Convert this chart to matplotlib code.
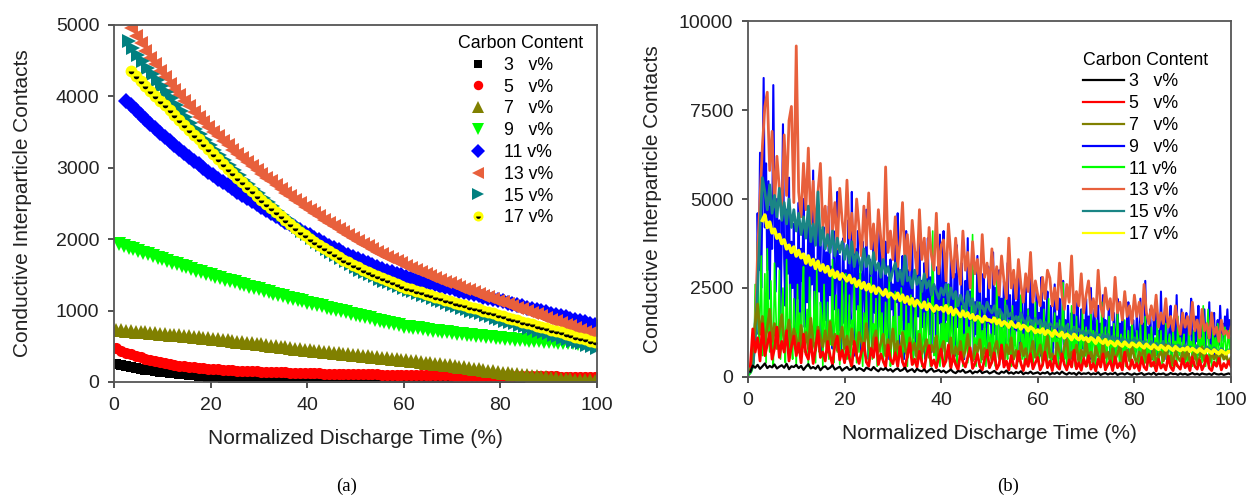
import matplotlib.pyplot as plt
import numpy as np

plt.rcParams['font.family'] = ['Liberation Sans', 'DejaVu Sans']

# Carbon contents (v%) and their legend labels
carbon = [3, 5, 7, 9, 11, 13, 15, 17]
labels = ["3   v%", "5   v%", "7   v%", "9   v%", "11 v%", "13 v%", "15 v%", "17 v%"]

# (a) Smoothed conductive contacts, one value per 1 % of discharge time
# first x value of each series
start_a = [0.5, 0.5, 0.5, 1.0, 2.5, 3.5, 3.0, 3.5]

smooth_3 = [250, 235, 221, 208, 196, 184, 173, 163, 153, 144,
            135, 127, 119, 112, 105, 98, 92, 86, 81, 76,
            71, 66, 62, 58, 54, 50, 47, 44, 41, 38,
            35, 32, 30, 27, 25, 23, 21, 19, 17, 16,
            14, 13, 12, 11, 10, 9, 8, 7, 7, 6,
            6, 5, 5, 5, 4, 4, 4, 4, 3, 3,
            3, 3, 3, 2, 2, 2, 2, 2, 2, 2,
            2, 2, 1, 1, 1, 1, 1, 1, 1, 1,
            1, 1, 1, 1, 1, 1, 1, 1, 1, 1,
            1, 1, 1, 1, 1, 1, 1, 1, 1, 1]

smooth_5 = [470, 440, 412, 387, 364, 343, 324, 306, 290, 275,
            261, 249, 238, 228, 219, 211, 204, 197, 191, 186,
            181, 176, 172, 168, 164, 160, 157, 154, 151, 148,
            145, 142, 140, 137, 135, 133, 131, 129, 127, 125,
            123, 121, 120, 118, 117, 115, 114, 112, 111, 110,
            109, 108, 107, 106, 105, 104, 103, 102, 101, 100,
            99, 98, 97, 96, 95, 94, 94, 93, 92, 91,
            90, 90, 89, 88, 87, 87, 86, 85, 85, 84,
            83, 83, 82, 81, 81, 80, 80, 79, 78, 78,
            77, 77, 76, 76, 75, 75, 74, 74, 73, 73]

smooth_7 = [730, 724, 718, 712, 706, 700, 694, 688, 682, 676,
            670, 664, 658, 652, 646, 640, 634, 628, 621, 614,
            606, 598, 590, 582, 574, 566, 558, 550, 542, 534,
            526, 517, 508, 499, 491, 483, 475, 467, 459, 451,
            444, 437, 430, 423, 416, 409, 402, 395, 388, 381,
            374, 367, 360, 353, 346, 339, 332, 325, 318, 311,
            303, 295, 287, 279, 271, 263, 255, 247, 239, 231,
            222, 213, 204, 195, 186, 177, 168, 159, 150, 141,
            132, 123, 115, 107, 99, 91, 84, 77, 70, 63,
            57, 51, 46, 41, 36, 32, 28, 24, 21, 18]

smooth_9 = [1930, 1906, 1882, 1858, 1834, 1810, 1787, 1764, 1741, 1718,
            1695, 1672, 1649, 1627, 1605, 1583, 1561, 1539, 1517, 1496,
            1475, 1455, 1435, 1415, 1395, 1375, 1355, 1335, 1315, 1296,
            1277, 1258, 1239, 1220, 1201, 1183, 1165, 1147, 1129, 1111,
            1094, 1077, 1060, 1043, 1026, 1009, 992, 975, 958, 941,
            924, 907, 890, 873, 856, 840, 824, 808, 792, 777,
            770, 760, 750, 740, 730, 721, 712, 703, 694, 685,
            677, 669, 661, 653, 645, 638, 631, 624, 617, 610,
            604, 598, 593, 588, 583, 578, 573, 569, 565, 561,
            557, 553, 549, 545, 541, 537, 533, 529, 525, 521]

smooth_11 = [3940, 3873, 3807, 3742, 3678, 3615, 3553, 3492, 3433, 3375,
             3318, 3262, 3207, 3153, 3100, 3048, 2997, 2947, 2898, 2850,
             2803, 2757, 2711, 2666, 2622, 2578, 2535, 2492, 2450, 2408,
             2367, 2326, 2286, 2246, 2207, 2168, 2130, 2092, 2055, 2018,
             1982, 1946, 1911, 1877, 1843, 1810, 1778, 1747, 1717, 1688,
             1660, 1633, 1607, 1582, 1558, 1535, 1513, 1492, 1472, 1453,
             1435, 1417, 1400, 1383, 1366, 1349, 1332, 1315, 1298, 1281,
             1264, 1247, 1230, 1213, 1196, 1179, 1162, 1145, 1128, 1111,
             1094, 1077, 1060, 1043, 1026, 1009, 992, 975, 958, 941,
             924, 907, 889, 871, 853, 835, 817, 799]

smooth_13 = [4960, 4850, 4745, 4642, 4542, 4447, 4355, 4265, 4178, 4094,
             4013, 3935, 3860, 3786, 3714, 3643, 3574, 3507, 3441, 3377,
             3315, 3254, 3195, 3137, 3080, 3024, 2969, 2915, 2862, 2809,
             2756, 2704, 2653, 2603, 2554, 2505, 2457, 2410, 2364, 2319,
             2274, 2229, 2185, 2142, 2100, 2058, 2017, 1977, 1938, 1900,
             1862, 1826, 1791, 1757, 1724, 1692, 1661, 1630, 1600, 1571,
             1540, 1512, 1485, 1458, 1431, 1405, 1380, 1355, 1330, 1306,
             1282, 1258, 1234, 1210, 1186, 1162, 1138, 1114, 1090, 1066,
             1042, 1018, 994, 970, 946, 922, 898, 874, 850, 826,
             802, 778, 754, 730, 706, 682, 658]

smooth_15 = [4770, 4675, 4582, 4490, 4400, 4312, 4226, 4142, 4060, 3980,
             3880, 3795, 3712, 3630, 3550, 3472, 3396, 3320, 3246, 3174,
             3104, 3035, 2967, 2900, 2834, 2769, 2705, 2642, 2580, 2519,
             2459, 2400, 2342, 2285, 2229, 2174, 2120, 2067, 2015, 1965,
             1916, 1868, 1822, 1777, 1733, 1691, 1650, 1611, 1574, 1539,
             1508, 1478, 1449, 1421, 1394, 1368, 1342, 1317, 1293, 1270,
             1250, 1225, 1200, 1176, 1152, 1129, 1106, 1084, 1062, 1041,
             1020, 1000, 980, 960, 940, 920, 900, 880, 860, 840,
             820, 800, 780, 760, 740, 720, 700, 680, 660, 640,
             620, 600, 580, 560, 540, 520, 500, 480]

smooth_17 = [4350, 4282, 4214, 4146, 4078, 4010, 3942, 3874, 3806, 3738,
             3670, 3602, 3534, 3466, 3398, 3330, 3262, 3194, 3126, 3058,
             2990, 2924, 2859, 2795, 2732, 2670, 2609, 2549, 2490, 2432,
             2375, 2319, 2264, 2210, 2157, 2105, 2054, 2005, 1958, 1913,
             1870, 1829, 1789, 1750, 1712, 1676, 1641, 1607, 1574, 1542,
             1511, 1481, 1452, 1424, 1397, 1371, 1346, 1322, 1299, 1277,
             1255, 1234, 1213, 1192, 1171, 1151, 1131, 1112, 1093, 1074,
             1055, 1036, 1017, 998, 979, 960, 941, 922, 903, 884,
             865, 846, 827, 808, 789, 770, 751, 732, 713, 694,
             675, 656, 637, 618, 599, 580, 561]

smooth_a = [smooth_3, smooth_5, smooth_7, smooth_9,
            smooth_11, smooth_13, smooth_15, smooth_17]

# (b) Raw contact counts; 9 and 11 v% are logged every 0.25 %, the rest every 0.5 %
step_b = [0.5, 0.5, 0.5, 0.25, 0.25, 0.5, 0.5, 0.5]

raw_3 = [150, 320, 260, 340, 230, 300, 380, 250, 310, 270, 350, 240, 290, 330, 260, 370, 220, 300, 280, 340,
         250, 310, 200, 290, 360, 240, 280, 230, 320, 190, 270, 300, 220, 260, 330, 210, 250, 290, 180, 240,
         280, 200, 230, 310, 190, 250, 220, 170, 260, 230, 190, 280, 210, 160, 240, 200, 250, 180, 220, 150,
         210, 240, 170, 200, 260, 150, 190, 220, 140, 230, 180, 160, 210, 130, 190, 240, 150, 170, 200, 140,
         180, 120, 160, 210, 140, 110, 170, 150, 200, 120, 140, 180, 100, 150, 130, 190, 110, 140, 160, 100,
         130, 170, 110, 90, 150, 120, 180, 100, 130, 90, 140, 110, 160, 80, 120, 100, 150, 90, 110, 130,
         80, 120, 100, 140, 70, 110, 90, 130, 80, 150, 100, 70, 120, 90, 110, 60, 130, 80, 100, 90,
         120, 70, 100, 80, 130, 60, 90, 110, 70, 100, 80, 120, 60, 90, 100, 70, 110, 80, 60, 100,
         70, 90, 110, 60, 80, 100, 70, 120, 60, 90, 80, 100, 60, 70, 110, 80, 90, 60, 100, 70,
         90, 60, 80, 110, 70, 90, 60, 100, 80, 70, 90, 60, 110, 80, 70, 90, 60, 80, 100, 70]

raw_5 = [300, 1350, 700, 1100, 450, 1500, 600, 900, 1250, 500, 800, 1400, 550, 1000, 700, 1300, 450, 850, 1150, 600,
         950, 400, 1200, 650, 500, 1050, 380, 800, 1300, 550, 700, 450, 1000, 600, 350, 900, 1150, 480, 750, 400,
         850, 520, 300, 1000, 600, 380, 720, 950, 420, 300, 800, 550, 1100, 350, 650, 450, 280, 900, 500, 370,
         680, 300, 850, 420, 250, 600, 950, 350, 500, 280, 720, 400, 230, 650, 880, 320, 480, 260, 560, 780,
         300, 450, 900, 250, 600, 350, 200, 700, 420, 280, 550, 820, 240, 380, 650, 300, 200, 500, 750, 260,
         420, 680, 220, 350, 900, 280, 450, 200, 600, 320, 250, 720, 380, 180, 500, 300, 650, 230, 400, 550,
         200, 350, 700, 260, 450, 180, 580, 300, 220, 650, 350, 200, 480, 280, 750, 230, 400, 190, 520, 300,
         600, 220, 380, 170, 500, 280, 650, 200, 350, 450, 180, 560, 260, 400, 200, 700, 300, 220, 480, 250,
         380, 180, 550, 280, 200, 620, 300, 420, 170, 500, 250, 350, 200, 580, 280, 180, 450, 300, 220, 520,
         260, 400, 180, 560, 300, 220, 480, 200, 350, 600, 250, 180, 420, 300, 520, 200, 380, 260, 450, 300]

raw_7 = [200, 800, 1500, 2050, 1200, 1700, 900, 1400, 1900, 1000, 1500, 800, 1300, 1750, 900, 1200, 1600, 850, 1350, 1100,
         700, 1450, 950, 1250, 800, 1650, 1000, 750, 1400, 1100, 850, 1300, 700, 1550, 900, 1200, 750, 1050, 1400, 800,
         1150, 700, 1350, 900, 650, 1250, 1000, 750, 1500, 850, 650, 1100, 1300, 700, 950, 1200, 600, 1050, 800, 1350,
         700, 1000, 600, 1250, 850, 550, 1100, 750, 950, 500, 1200, 650, 850, 1050, 550, 900, 700, 1150, 500, 800,
         1000, 550, 750, 1100, 450, 850, 650, 1000, 500, 750, 1200, 600, 450, 900, 700, 1050, 500, 800, 600, 950,
         450, 800, 1000, 550, 700, 400, 900, 650, 1100, 500, 750, 450, 950, 600, 800, 400, 700, 1000, 550, 650,
         900, 450, 750, 1150, 550, 650, 400, 950, 700, 500, 850, 1050, 450, 700, 600, 900, 400, 750, 550, 1000,
         500, 700, 400, 850, 600, 450, 950, 550, 700, 400, 800, 500, 650, 900, 400, 600, 750, 450, 850, 550,
         400, 700, 550, 850, 400, 650, 500, 800, 380, 600, 700, 450, 900, 500, 600, 380, 750, 550, 450, 700,
         500, 800, 400, 600, 700, 380, 550, 850, 450, 600, 400, 700, 500, 650, 420, 750, 500, 600, 400, 550]

raw_9 = [80, 120, 200, 300, 600, 1800, 1200, 4600, 3000, 6300, 2500, 5200, 8400, 4200, 6000, 3000, 5500, 2200, 4800, 3600,
         8200, 4500, 2400, 5000, 3100, 4400, 1800, 3900, 7100, 3300, 2000, 4700, 2900, 5600, 1500, 3800, 2500, 4300, 1200, 3500,
         2200, 4900, 900, 3600, 2700, 5000, 1400, 3200, 2100, 4400, 700, 3900, 2600, 5800, 1700, 3300, 1000, 4600, 2400, 3700,
         600, 2900, 4200, 1600, 3500, 900, 4800, 2300, 3100, 800, 4100, 1900, 2800, 5200, 1300, 3400, 700, 2600, 3900, 1500,
         3000, 800, 4400, 2200, 1500, 5200, 2700, 600, 3600, 1900, 4100, 1100, 2900, 700, 3800, 2400, 1300, 4700, 2000, 500,
         3300, 2600, 900, 4000, 1800, 3100, 600, 2500, 4300, 1400, 3500, 800, 2200, 3800, 1200, 2800, 500, 3300, 1900, 2600,
         1000, 3700, 2100, 4600, 700, 2900, 1600, 3400, 500, 2400, 4100, 1300, 3000, 800, 2600, 3800, 1100, 2200, 600, 3500,
         1700, 4500, 900, 2700, 1400, 3200, 500, 2300, 3900, 1200, 2800, 700, 3400, 1800, 2500, 600, 3100, 1500, 4000, 1000,
         2300, 4100, 800, 3000, 1600, 2600, 500, 3500, 1900, 1100, 2900, 600, 3700, 1400, 2200, 900, 3200, 1700, 500, 2700,
         1300, 3900, 800, 2400, 1600, 3000, 500, 2100, 1200, 3400, 900, 2600, 1800, 600, 2900, 1400, 2200, 700, 3100, 1500,
         2000, 600, 3500, 1200, 2500, 800, 1800, 3000, 500, 2200, 1400, 2700, 700, 1900, 3200, 1000, 2300, 500, 1600, 2800,
         900, 2100, 1300, 3100, 600, 1700, 2400, 800, 1500, 2600, 500, 1900, 1100, 2900, 700, 2200, 1400, 600, 2500, 1000,
         1800, 600, 2800, 1300, 2100, 500, 1600, 2400, 900, 1500, 2000, 500, 1200, 2600, 800, 1700, 1100, 2200, 500, 1400,
         2700, 900, 1600, 600, 2000, 1200, 500, 1800, 1000, 2300, 700, 1500, 2100, 500, 1300, 1900, 800, 1600, 600, 2200,
         1100, 1700, 500, 2500, 900, 1400, 1900, 600, 1200, 2000, 800, 1500, 500, 2300, 1000, 1600, 700, 1300, 2100, 500,
         1400, 900, 1800, 600, 1200, 2200, 800, 1500, 500, 1900, 1000, 1300, 700, 1700, 2100, 600, 1400, 900, 1600, 1100,
         700, 1800, 1200, 500, 2200, 900, 1500, 600, 2700, 1100, 1400, 700, 1900, 1000, 500, 1600, 1200, 2000, 600, 1300,
         800, 2400, 1000, 1500, 500, 1800, 1100, 700, 1400, 2000, 600, 1200, 1700, 900, 2300, 700, 1400, 1000, 1900, 800,
         1500, 600, 1800, 1100, 500, 1400, 2200, 800, 1300, 700, 1700, 1000, 2000, 600, 1200, 1600, 900, 1900, 700, 1400,
         1100, 2100, 800, 1500, 1000, 1800, 600, 1300, 1600, 900, 2000, 1200, 1500, 1000, 1700, 1300, 1900, 1100, 1600, 1400]

raw_11 = [60, 100, 150, 250, 400, 2600, 1200, 3800, 900, 1800, 3400, 600, 1200, 2900, 400, 3600, 1500, 700, 2700, 1100,
          300, 3200, 2000, 800, 1100, 3000, 500, 1600, 2500, 900, 400, 3300, 1400, 700, 2600, 1000, 500, 2200, 1500, 300,
          2600, 900, 1800, 400, 2200, 3100, 700, 1200, 1900, 300, 2800, 1500, 600, 1000, 2400, 400, 3000, 1100, 700, 2100,
          1700, 300, 2600, 1300, 800, 2100, 500, 1600, 900, 3300, 400, 1400, 2300, 700, 1900, 350, 1200, 2700, 600, 1000,
          2900, 500, 1200, 2300, 300, 1600, 900, 2700, 1300, 400, 2000, 700, 3200, 1000, 300, 1800, 600, 2400, 1400, 350,
          1100, 2800, 500, 1500, 900, 2200, 300, 1300, 2500, 700, 1800, 400, 1000, 2100, 600, 1400, 2800, 300, 1100, 1700,
          500, 2400, 900, 300, 1700, 1200, 2500, 400, 1300, 700, 2000, 300, 1500, 800, 2300, 1100, 350, 1600, 2100, 500,
          1300, 700, 2600, 300, 1000, 1800, 500, 1400, 2200, 900, 300, 1600, 4100, 600, 1100, 400, 1900, 1200, 300, 1500,
          700, 2200, 400, 1500, 1000, 2600, 300, 1300, 1800, 500, 1100, 2400, 300, 900, 1700, 600, 2000, 300, 1200, 800,
          2300, 400, 1400, 700, 1900, 4000, 500, 1100, 300, 1700, 900, 2100, 400, 1300, 700, 1800, 300, 1000, 1500, 600,
          1200, 400, 1700, 800, 300, 2900, 1000, 500, 1900, 700, 1400, 300, 2200, 900, 500, 1600, 1100, 300, 2000, 600,
          1300, 800, 300, 1700, 1000, 2300, 500, 1200, 300, 1500, 700, 1900, 400, 1100, 1600, 300, 900, 2100, 600, 1300,
          400, 1500, 900, 300, 1900, 700, 1200, 400, 2200, 800, 300, 1400, 1000, 1800, 500, 1100, 300, 1600, 700, 1300,
          2650, 500, 900, 300, 1500, 1000, 400, 2000, 700, 1200, 300, 1700, 800, 500, 1300, 300, 1900, 900, 600, 1400,
          300, 1100, 700, 1800, 400, 1300, 900, 300, 1600, 600, 1200, 300, 2100, 800, 500, 1400, 300, 1000, 1700, 600,
          1100, 300, 1500, 800, 400, 1900, 700, 300, 1200, 1000, 500, 1600, 300, 900, 1300, 600, 300, 1800, 700, 1100,
          400, 1300, 800, 300, 1500, 600, 1000, 300, 1700, 700, 500, 1200, 300, 1400, 900, 300, 1100, 600, 1600, 400,
          800, 1300, 300, 1000, 600, 1500, 300, 900, 1200, 500, 300, 1400, 700, 1000, 300, 1700, 600, 1100, 400, 900,
          1200, 400, 800, 300, 1400, 700, 1000, 300, 1300, 500, 900, 300, 1500, 600, 1100, 400, 2000, 700, 300, 1200,
          1900, 500, 900, 300, 1300, 700, 1100, 400, 1500, 800, 300, 1200, 600, 1000, 1400, 500, 900, 1300, 700, 1100]

raw_13 = [200, 400, 1200, 3500, 5000, 6500, 7600, 8000, 5800, 6900, 4800, 6200, 5300, 4600, 6800, 5100, 7200, 7600, 4900, 9300,
          5200, 4500, 6000, 4700, 6430, 4300, 5500, 3900, 5200, 6000, 4200, 4800, 3700, 5600, 4100, 4900, 3600, 5300, 4400, 3800,
          5530, 3900, 4600, 3500, 5000, 4200, 3400, 4800, 3700, 5170, 3600, 4300, 3300, 4700, 3900, 3200, 5900, 3500, 4100, 3300,
          4500, 3100, 3800, 4900, 3200, 4000, 3000, 4400, 3600, 2900, 4700, 3300, 3900, 2800, 4200, 3400, 3000, 4600, 2900, 3700,
          3850, 2700, 4300, 3430, 2800, 3900, 3100, 2600, 4100, 3000, 3500, 2500, 3800, 2900, 3300, 2400, 4000, 2800, 3200, 2500,
          3600, 2600, 3100, 2300, 3400, 2700, 2200, 3900, 2500, 3000, 2200, 3300, 2600, 2100, 2900, 2400, 3500, 2100, 2700, 2300,
          2000, 2800, 2200, 3000, 2780, 2000, 2500, 1900, 3200, 2300, 1900, 2600, 2100, 3400, 1800, 2400, 2000, 2900, 1800, 2300,
          2700, 1800, 2200, 1700, 3000, 2000, 1700, 2500, 1900, 2200, 1600, 2800, 1800, 2100, 1600, 2400, 1700, 2000, 1500, 2300,
          1700, 2100, 1500, 2600, 1800, 1500, 2000, 1600, 2300, 1400, 1800, 1500, 2200, 1400, 1700, 1300, 2000, 1500, 1200, 1800,
          1400, 1700, 1200, 2100, 1300, 1600, 1100, 1900, 1300, 1500, 1100, 1800, 1200, 1400, 1000, 1600, 1200, 1300, 1100, 1400]

raw_15 = [150, 300, 1000, 2500, 4200, 5600, 5200, 4700, 5400, 4600, 5100, 4500, 5300, 4400, 4900, 4300, 5000, 4200, 4700, 4100,
          4600, 4000, 4500, 3900, 4800, 3800, 4300, 3700, 5200, 3700, 4200, 3600, 4000, 3500, 4100, 3400, 3900, 3500, 3800, 3300,
          3700, 3200, 3800, 3100, 3500, 3300, 3000, 3600, 3100, 3400, 2900, 3500, 3000, 3200, 2800, 3300, 2900, 3100, 2700, 3000,
          3200, 2700, 3000, 2600, 3400, 2700, 2800, 2500, 3000, 2600, 2800, 2400, 2900, 2500, 2700, 2300, 2600, 2400, 2200, 2500,
          2300, 2600, 2100, 2500, 2200, 2400, 2000, 2300, 2100, 1900, 2400, 2000, 2200, 1800, 2100, 1900, 2000, 1800, 2100, 1900,
          1800, 2000, 1700, 1900, 1800, 1600, 2000, 1700, 1800, 1600, 1700, 1500, 1800, 1600, 1500, 1700, 1550, 1450, 1650, 1500,
          1600, 1400, 1550, 1350, 1500, 1450, 1300, 1500, 1350, 1400, 1250, 1450, 1300, 1200, 1400, 1250, 1350, 1200, 1300, 1150,
          1300, 1200, 1100, 1250, 1150, 1050, 1200, 1100, 1200, 1000, 1150, 1050, 1100, 950, 1100, 1000, 1050, 950, 1000, 1100,
          950, 1050, 900, 1000, 950, 850, 1000, 900, 950, 850, 900, 1000, 800, 950, 850, 900, 800, 900, 850, 800,
          900, 780, 850, 800, 750, 880, 780, 820, 720, 850, 780, 700, 820, 750, 680, 800, 720, 650, 760, 700]

raw_17 = [np.nan, np.nan, np.nan, np.nan, np.nan, 4400, 4550, 4200, 4350, 4050, 4150, 3900, 4000, 3750, 3850, 3600, 3700, 3500, 3650, 3400,
          3550, 3350, 3450, 3200, 3400, 3150, 3300, 3050, 3250, 3000, 3150, 2950, 3100, 2850, 3000, 2800, 2950, 2750, 2900, 2800,
          2700, 2850, 2650, 2750, 2550, 2700, 2500, 2650, 2450, 2600, 2400, 2550, 2350, 2500, 2400, 2300, 2450, 2250, 2350, 2300,
          2200, 2350, 2150, 2300, 2100, 2250, 2050, 2200, 2000, 2150, 2050, 1950, 2100, 1900, 2050, 1950, 1850, 2000, 1900, 1950,
          1850, 2000, 1800, 1950, 1750, 1900, 1800, 1700, 1850, 1700, 1800, 1650, 1750, 1600, 1700, 1650, 1550, 1700, 1600, 1600,
          1550, 1650, 1500, 1600, 1450, 1550, 1500, 1400, 1550, 1450, 1400, 1500, 1350, 1450, 1400, 1300, 1400, 1350, 1250, 1320,
          1250, 1350, 1200, 1300, 1250, 1150, 1300, 1200, 1150, 1250, 1100, 1200, 1150, 1050, 1200, 1100, 1050, 1150, 1050, 1100,
          1000, 1100, 1050, 950, 1100, 1000, 950, 1050, 900, 1000, 950, 880, 1000, 920, 870, 980, 900, 850, 950, 900,
          850, 950, 870, 820, 920, 850, 800, 900, 830, 780, 880, 820, 760, 860, 800, 750, 850, 780, 740, 800,
          760, 830, 720, 800, 750, 700, 790, 730, 680, 770, 720, 670, 760, 700, 660, 740, 690, 650, 720, 700]

raw_b = [raw_3, raw_5, raw_7, raw_9, raw_11, raw_13, raw_15, raw_17]

# Colours / markers for each carbon content
colors_a = ['black', '#FF0000', '#808000', '#00FF00', '#0000FF', '#E8603C', '#008080', '#FFFF00']
markers_a = ['s', 'o', '^', 'v', 'D', '<', '>', 'o']
msize_a = [7, 8, 9.5, 9.5, 8.5, 9.5, 9.5, 8.5]
colors_b = ['black', '#FF0000', '#808000', '#0000FF', '#00FF00', '#E8603C', '#1A8585', '#FFFF00']
lw_b = [1.6, 2.0, 2.0, 1.5, 1.2, 2.0, 2.0, 2.6]
# drawing order of the raw series (last one ends up on top)
order_b = [3, 4, 5, 6, 2, 1, 0, 7]

fig = plt.figure(figsize=(12.56, 4.99), dpi=100)
ax1 = fig.add_axes([0.0908, 0.2345, 0.3845, 0.7154])
ax2 = fig.add_axes([0.5955, 0.2445, 0.3846, 0.7134])

# 1) Left panel -> smoothed curves drawn as markers
handles_a = []
for i in range(len(carbon)):
    vals = smooth_a[i]
    x = start_a[i] + np.arange(len(vals))
    h, = ax1.plot(x, vals, linestyle='none', marker=markers_a[i],
                  markersize=msize_a[i], color=colors_a[i], markeredgewidth=0)
    if carbon[i] == 17:
        # black half dot inside the yellow circles
        h2, = ax1.plot(x, vals, linestyle='none', marker='o', markersize=4,
                       fillstyle='bottom', markerfacecolor='black',
                       markerfacecoloralt='none', markeredgewidth=0)
        h = (h, h2)
    handles_a.append(h)

# 2) Right panel -> raw noisy counts as lines
handles_b = [None] * len(carbon)
for i in order_b:
    vals = raw_b[i]
    x = step_b[i] * np.arange(1, len(vals) + 1)
    h, = ax2.plot(x, vals, color=colors_b[i], linewidth=lw_b[i])
    handles_b[i] = h

# Axes formatting shared by both panels
for ax, ymax, ystep, ypad in [(ax1, 5000, 1000, 17), (ax2, 10000, 2500, 12)]:
    ax.set_xlim(0, 100)
    ax.set_ylim(0, ymax)
    ax.set_xticks(np.arange(0, 101, 20))
    ax.set_yticks(np.arange(0, ymax + 1, ystep))
    ax.tick_params(direction='out', length=4, width=1.2, colors='#333333',
                   labelsize=14, labelcolor='#222222', pad=6.5)
    for s in ax.spines.values():
        s.set_color('#555555')
        s.set_linewidth(1.3)
    ax.set_xlabel("Normalized Discharge Time (%)", fontsize=15,
                  color='#222222', labelpad=11)
    ax.set_ylabel("Conductive Interparticle Contacts", fontsize=15,
                  color='#222222', labelpad=ypad)

leg_kw = dict(title="Carbon Content", frameon=False, fontsize=12.8,
              title_fontsize=12.8, alignment='left', handlelength=2.3,
              handletextpad=0.3, labelspacing=0.27, borderpad=0,
              borderaxespad=0, numpoints=1, markerscale=0.85)
ax1.legend(handles_a, labels, loc='upper left', bbox_to_anchor=(0.712, 0.972),
           **leg_kw)
leg2 = ax2.legend(handles_b, labels, loc='upper left',
                  bbox_to_anchor=(0.694, 0.914), **leg_kw)
for line in leg2.get_lines():
    line.set_linewidth(1.6)

# Panel captions
fig.text(0.276, 0.026, "(a)", family='Liberation Serif', fontsize=13.5,
         ha='center', va='center')
fig.text(0.8025, 0.026, "(b)", family='Liberation Serif', fontsize=13.5,
         ha='center', va='center')

plt.savefig("out.png", dpi=100)
